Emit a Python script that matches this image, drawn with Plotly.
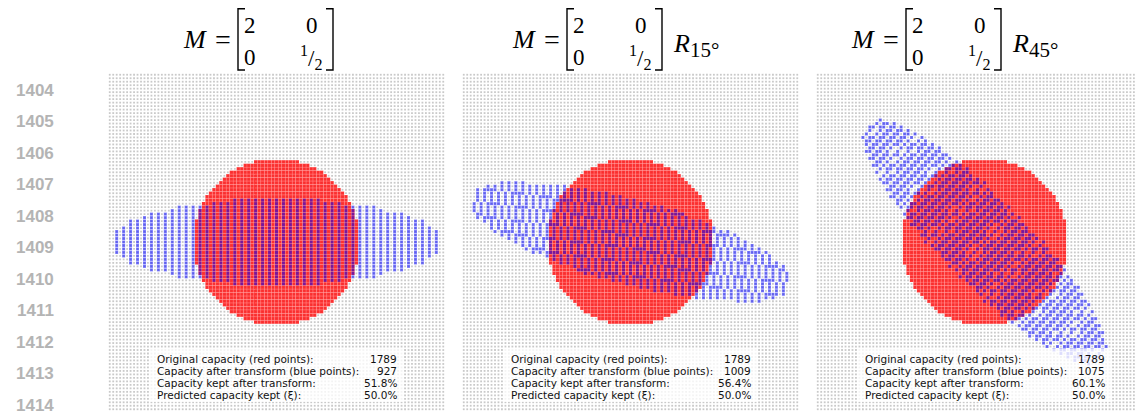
import numpy as np
import plotly.graph_objects as go

# ---------------- data ----------------
GRID_HALF = 48            # lattice runs from -48 .. 48
RADIUS = 24               # red disc: x^2 + y^2 < 24^2  -> 1789 points
SCALE = [2.0, 0.5]        # M = diag(2, 1/2)
ANGLES = [0, 15, 45]      # rotation R_theta applied after M
ORIGINAL = ["1789", "1789", "1789"]
AFTER = ["927", "1009", "1075"]
KEPT = ["51.8%", "56.4%", "60.1%"]
PREDICTED = ["50.0%", "50.0%", "50.0%"]
ROW_LABELS = ["Original capacity (red points):",
              "Capacity after transform (blue points):",
              "Capacity kept after transform:",
              "Predicted capacity kept (ξ):"]
ROT_LABELS = ["", "15°", "45°"]
LINE_NUMBERS = [str(n) for n in range(1404, 1415)]

# ---------------- geometry (reference pixel coords; page has 8px body margin) ----------------
OFF = 8
W, H = 1143, 416
FW, FH = W - OFF, H - OFF
def px(x): return (x - OFF) / FW
def py(y): return 1 - (y - OFF) / FH

PANEL_LEFT = [108, 462, 816]
PANEL_W = 337
TOP, BOTTOM = 73, 411
NCELL = 2 * GRID_HALF + 1
UNIT = PANEL_W / NCELL

g = np.arange(-GRID_HALF, GRID_HALF + 1)
GX, GY = np.meshgrid(g, g)
gx, gy = GX.ravel(), GY.ravel()
inside = gx**2 + gy**2 < RADIUS**2
rx, ry = gx[inside], gy[inside]

fig = go.Figure()
layout_axes = {}
for i, ang in enumerate(ANGLES):
    xa = "x" if i == 0 else f"x{i+1}"
    ya = "y" if i == 0 else f"y{i+1}"
    left = PANEL_LEFT[i]
    right = min(left + PANEL_W, W)
    xr = [-GRID_HALF - 0.5, -GRID_HALF - 0.5 + (right - left) / UNIT]
    # blue points: round(R M p), unique
    t = np.deg2rad(-ang)
    mx, my = SCALE[0] * rx, SCALE[1] * ry
    qx = np.round(np.cos(t) * mx - np.sin(t) * my)
    qy = np.round(np.sin(t) * mx + np.cos(t) * my)
    q = np.unique(np.stack([qx, qy], 1), axis=0)
    q = q[(np.abs(q[:, 0]) <= GRID_HALF) & (np.abs(q[:, 1]) <= GRID_HALF)]

    fig.add_trace(go.Scatter(x=gx, y=gy, mode="markers", xaxis=xa, yaxis=ya,
                             marker=dict(symbol="square", size=1.8, color="#c9c9c9",
                                         line=dict(width=0)),
                             hoverinfo="skip", showlegend=False))
    fig.add_trace(go.Scatter(x=rx, y=ry, mode="markers", xaxis=xa, yaxis=ya,
                             marker=dict(symbol="square", size=3.3,
                                         color="rgba(255,20,20,0.85)",
                                         line=dict(width=0)),
                             hoverinfo="skip", showlegend=False))
    fig.add_trace(go.Scatter(x=q[:, 0], y=q[:, 1], mode="markers", xaxis=xa, yaxis=ya,
                             marker=dict(symbol="square", size=3.0,
                                         color="rgba(0,0,255,0.52)",
                                         line=dict(width=0)),
                             hoverinfo="skip", showlegend=False))
    axkw = dict(showgrid=False, zeroline=False, showticklabels=False,
                showline=False, ticks="", fixedrange=True)
    layout_axes["xaxis" if i == 0 else f"xaxis{i+1}"] = dict(
        domain=[px(left), min(px(right), 1.0)], range=xr, anchor=ya, **axkw)
    layout_axes["yaxis" if i == 0 else f"yaxis{i+1}"] = dict(
        domain=[max(py(BOTTOM), 0.0), py(TOP)], range=[-GRID_HALF - 0.5, GRID_HALF + 0.5],
        anchor=xa, **axkw)

shapes, annotations = [], []

# text boxes
for i in range(3):
    cx = PANEL_LEFT[i] + PANEL_W / 2
    shapes.append(dict(type="rect", xref="paper", yref="paper", layer="above",
                       x0=px(cx - 127.5), x1=px(cx + 127.5), y0=py(402), y1=py(349),
                       fillcolor="rgba(255,255,255,0.78)", line=dict(width=0)))
    vals = [ORIGINAL[i], AFTER[i], KEPT[i], PREDICTED[i]]
    for k, (lab, v) in enumerate(zip(ROW_LABELS, vals)):
        yy = 358.5 + 12.3 * k
        annotations.append(dict(text=lab, x=px(cx - 121.5), y=py(yy), xref="paper", yref="paper",
                                xanchor="left", yanchor="middle", showarrow=False,
                                font=dict(family="DejaVu Sans", size=10.5, color="#111")))
        annotations.append(dict(text=v, x=px(cx + 122.5), y=py(yy), xref="paper", yref="paper",
                                xanchor="right", yanchor="middle", showarrow=False,
                                font=dict(family="DejaVu Sans", size=10.5, color="#111")))

# titles
BRACKET_L = [238, 567, 906]
SERIF = "Liberation Serif"
def ann(text, x, y, size, xanchor="center"):
    annotations.append(dict(text=text, x=px(x), y=py(y), xref="paper", yref="paper",
                            xanchor=xanchor, yanchor="middle", showarrow=False,
                            font=dict(family=SERIF, size=size, color="#000")))
for i in range(3):
    L = BRACKET_L[i]
    ann("<i>M</i>", L - 43, 40, 26)
    ann("=", L - 15, 40, 28)
    ann("2", L + 12, 26, 23)
    ann("0", L + 74, 26, 23)
    ann("0", L + 12, 57, 23)
    ann("<sup>1</sup>/<sub>2</sub>", L + 73, 57, 23)
    if ROT_LABELS[i]:
        ann(f"<i>R</i><sub><span style='font-size:21px'>{ROT_LABELS[i]}</span></sub>",
            L + 104, 45, 26, xanchor="left")
    for xb, d in [(L, 7), (L + 95, -7)]:
        shapes.append(dict(type="path", xref="paper", yref="paper",
                           path=f"M {px(xb + d)} {py(8.7)} L {px(xb)} {py(8.7)} L {px(xb)} {py(70)} L {px(xb + d)} {py(70)}",
                           line=dict(color="#000", width=1.4)))

# line numbers
for k, s in enumerate(LINE_NUMBERS):
    annotations.append(dict(text=f"<b>{s}</b>", x=px(56), y=py(90.5 + 31.45 * k),
                            xref="paper", yref="paper", xanchor="right", yanchor="middle",
                            showarrow=False,
                            font=dict(family="Liberation Sans", size=17, color="#b4b4b4")))

fig.update_layout(width=FW, height=FH, margin=dict(l=0, r=0, t=0, b=0),
                  paper_bgcolor="white", plot_bgcolor="white",
                  shapes=shapes, annotations=annotations, **layout_axes)
fig.write_html("out.html")
